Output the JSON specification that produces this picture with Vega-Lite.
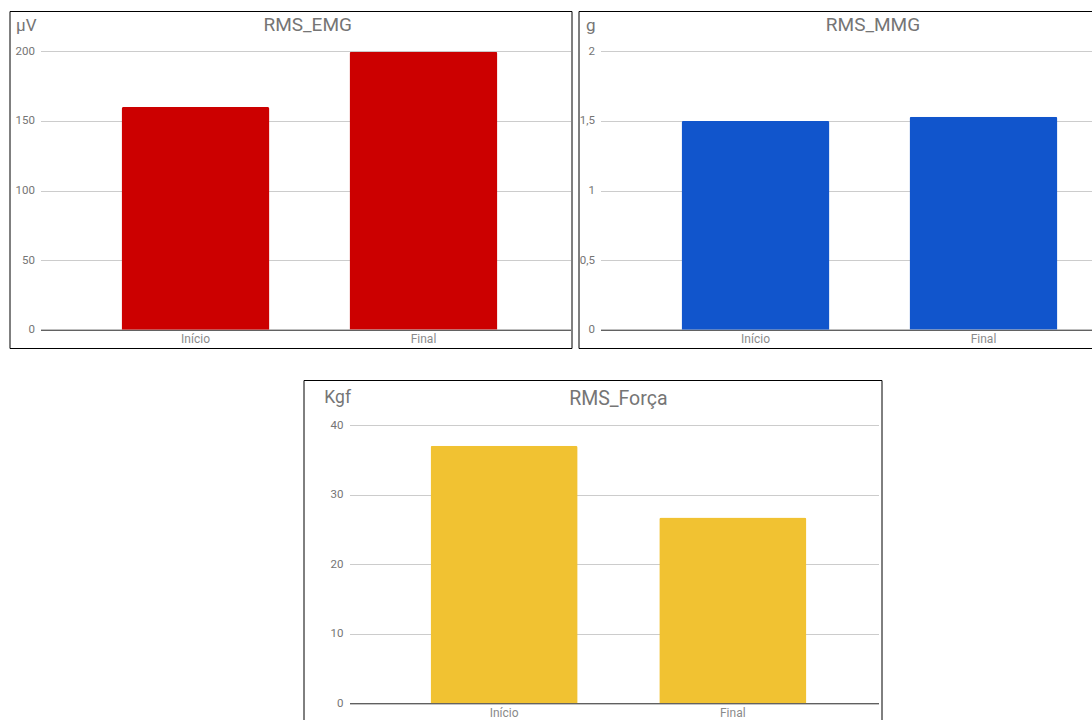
{
  "$schema": "https://vega.github.io/schema/vega-lite/v6.json",
  "padding": {"left": 8.5, "top": 10, "right": 0, "bottom": 0},
  "background": "white",
  "spacing": 30,
  "vconcat": [
    {
      "spacing": 5,
      "hconcat": [
        {
          "width": 562,
          "height": 337,
          "view": {"stroke": "#000000", "strokeWidth": 1},
          "data": {"values": [
            {"momento": "Início", "valor": 160},
            {"momento": "Final", "valor": 199.7}
          ]},
          "mark": {"type": "bar", "color": "#cc0000", "cornerRadiusEnd": 2},
          "encoding": {
            "x": {
              "field": "momento", "type": "nominal", "sort": ["Início", "Final"],
              "scale": {"range": [31, 561], "paddingInner": 0.351, "paddingOuter": 0.338, "align": 0.526},
              "axis": {"title": "RMS_EMG", "titleFontSize": 19, "titleAlign": "center", "titleX": 297.7, "titleY": -299, "offset": -18.3, "labelAngle": 0, "labelPadding": 4, "labelFontSize": 12, "labelColor": "#8a8a8a"}
            },
            "y": {
              "field": "valor", "type": "quantitative",
              "scale": {"domain": [0, 200], "range": [318.7, 40.3], "nice": false},
              "axis": {"title": "μV", "titleFontSize": 17, "titleX": -25, "titleY": 19, "values": [0, 50, 100, 150, 200], "offset": -31, "labelPadding": 6}
            }
          }
        },
        {
          "width": 562,
          "height": 337,
          "view": {"stroke": "#000000", "strokeWidth": 1},
          "data": {"values": [
            {"momento": "Início", "valor": 1.5},
            {"momento": "Final", "valor": 1.53}
          ]},
          "mark": {"type": "bar", "color": "#1155cc", "cornerRadiusEnd": 2},
          "encoding": {
            "x": {
              "field": "momento", "type": "nominal", "sort": ["Início", "Final"],
              "scale": {"range": [22, 552], "paddingInner": 0.351, "paddingOuter": 0.338, "align": 0.526},
              "axis": {"title": "RMS_MMG", "titleFontSize": 19, "titleAlign": "center", "titleX": 294, "titleY": -299, "offset": -18.3, "labelAngle": 0, "labelPadding": 4, "labelFontSize": 12, "labelColor": "#8a8a8a"}
            },
            "y": {
              "field": "valor", "type": "quantitative",
              "scale": {"domain": [0, 2], "range": [318.7, 40.3], "nice": false},
              "axis": {"title": "g", "titleFontSize": 17, "titleX": -15, "titleY": 19, "values": [0, 0.5, 1, 1.5, 2], "format": "~g", "offset": -22, "labelPadding": 6}
            }
          }
        }
      ]
    },
    {
      "spacing": 0,
      "hconcat": [
        {
          "width": 293,
          "height": 10,
          "view": {"stroke": null},
          "data": {"values": []},
          "mark": "point"
        },
        {
          "width": 578,
          "height": 342,
          "view": {"stroke": "#000000", "strokeWidth": 1},
          "data": {"values": [
            {"momento": "Início", "valor": 37},
            {"momento": "Final", "valor": 26.7}
          ]},
          "mark": {"type": "bar", "color": "#f1c232", "cornerRadiusEnd": 2},
          "encoding": {
            "x": {
              "field": "momento", "type": "nominal", "sort": ["Início", "Final"],
              "scale": {"range": [46, 575], "paddingInner": 0.357, "paddingOuter": 0.335, "align": 0.529},
              "axis": {"title": "RMS_Força", "titleFontSize": 19.5, "titleAlign": "center", "titleX": 314.3, "titleY": -299, "offset": -18.7, "labelAngle": 0, "labelPadding": 4, "labelFontSize": 12, "labelColor": "#8a8a8a"}
            },
            "y": {
              "field": "valor", "type": "quantitative",
              "scale": {"domain": [0, 40], "range": [323.3, 45], "nice": false},
              "axis": {"title": "Kgf", "titleFontSize": 17.5, "titleX": -25.7, "titleY": 22.6, "values": [0, 10, 20, 30, 40], "offset": -46, "labelPadding": 6.5}
            }
          }
        }
      ]
    }
  ],
  "config": {
    "font": "Roboto",
    "locale": {"number": {"decimal": ",", "thousands": ".", "grouping": [3], "currency": ["R$", ""]}},
    "axis": {
      "ticks": false,
      "tickSize": 0,
      "domain": false,
      "labelFontSize": 11.5,
      "labelColor": "#757575",
      "gridColor": "#cccccc",
      "gridWidth": 1,
      "titleColor": "#757575",
      "titleFontWeight": "normal",
      "titleAngle": 0,
      "titleAlign": "left",
      "titleBaseline": "alphabetic"
    },
    "axisX": {"domain": true, "domainColor": "#333333", "domainWidth": 1, "grid": false}
  }
}
